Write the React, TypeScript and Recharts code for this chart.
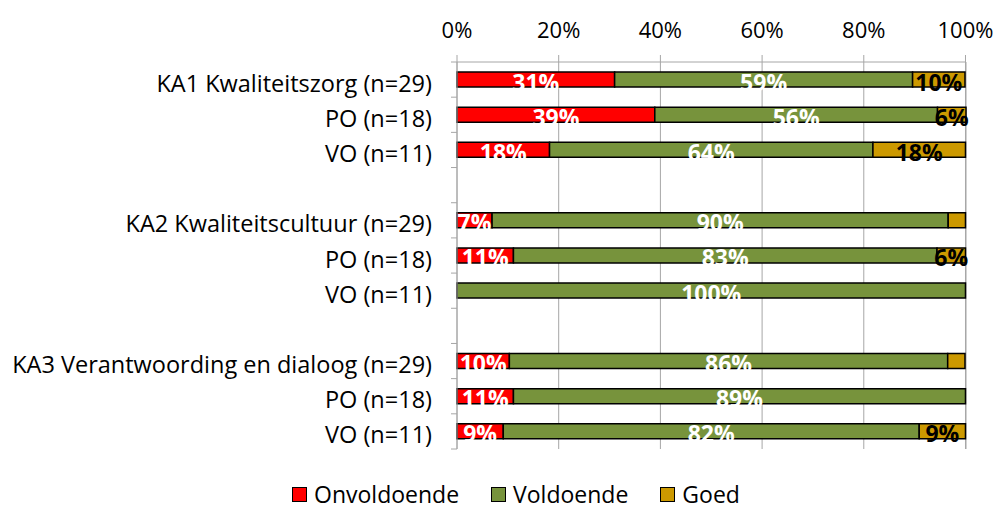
import React from 'react';
import { BarChart, Bar, XAxis, YAxis, CartesianGrid, LabelList, Legend } from 'recharts';

const categories = [
  'KA1 Kwaliteitszorg (n=29)',
  'PO (n=18)',
  'VO (n=11)',
  '',
  'KA2 Kwaliteitscultuur (n=29)',
  'PO (n=18)',
  'VO (n=11)',
  ' ',
  'KA3 Verantwoording en dialoog (n=29)',
  'PO (n=18)',
  'VO (n=11)',
];
const onvoldoende = [31.0, 38.9, 18.2, 0, 6.9, 11.1, 0, 0, 10.3, 11.1, 9.1];
const voldoende = [58.6, 55.6, 63.6, 0, 89.7, 83.3, 100, 0, 86.2, 88.9, 81.8];
const goed = [10.3, 5.6, 18.2, 0, 3.4, 5.6, 0, 0, 3.4, 0, 9.1];
const xTicks = [0, 20, 40, 60, 80, 100];

const seriesNames = ['Onvoldoende', 'Voldoende', 'Goed'];
const seriesColors = ['#FF0000', '#77933C', '#CC9900'];
const labelColors = ['#FFFFFF', '#FFFFFF', '#000000'];

const data = categories.map((c, i) => ({
  cat: c,
  onv: onvoldoende[i],
  vol: voldoende[i],
  goe: goed[i],
}));

const W = 997;
const H = 512;
const M_TOP = 22;
const X_H = 40;
const LEG_H = 63;
const BAND = (H - M_TOP - X_H - LEG_H) / categories.length;
const FONT = '"Open Sans", sans-serif';
const GRID = '#A6A6A6';

const YTick = (props: any) => {
  const { x, y, payload, index } = props;
  return (
    <g>
      <text
        x={x - 25}
        y={y + 3}
        textAnchor="end"
        dominantBaseline="central"
        fontSize={23.5}
        fontFamily={FONT}
        fill="#000"
      >
        {payload.value}
      </text>
      <line x1={x - 6} x2={x} y1={y - BAND / 2} y2={y - BAND / 2} stroke={GRID} />
      {index === categories.length - 1 && (
        <line x1={x - 6} x2={x} y1={y + BAND / 2} y2={y + BAND / 2} stroke={GRID} />
      )}
    </g>
  );
};

const makeLabel = (color: string) => (props: any) => {
  const { x, y, width, height, value } = props;
  if (value == null || value < 5) return null;
  return (
    <text
      x={x + width / 2}
      y={y + height / 2 + 2}
      textAnchor="middle"
      dominantBaseline="central"
      fontSize={23}
      fontWeight="bold"
      fontFamily={FONT}
      fill={color}
    >
      {Math.round(value) + '%'}
    </text>
  );
};

const LegendContent = () => (
  <div
    style={{
      display: 'flex',
      alignItems: 'center',
      paddingLeft: 292,
      paddingTop: 36,
      fontFamily: FONT,
      fontSize: 23,
      color: '#000',
      lineHeight: '18px',
    }}
  >
    {seriesNames.map((n, i) => (
      <div key={n} style={{ display: 'flex', alignItems: 'center', marginRight: 32 }}>
        <div
          style={{
            width: 13,
            height: 13,
            background: seriesColors[i],
            border: '1px solid #000',
            marginRight: 7,
          }}
        />
        <div style={{ display: 'block', height: 18, lineHeight: '18px' }}>{n}</div>
      </div>
    ))}
  </div>
);

export default function App() {
  const keys = ['onv', 'vol', 'goe'];
  return (
    <div style={{ position: 'absolute', left: 0, top: 0, width: W, height: H, background: '#fff' }}>
      <BarChart
        width={W}
        height={H}
        data={data}
        layout="vertical"
        margin={{ top: M_TOP, right: 31, bottom: 0, left: 0 }}
        barCategoryGap={0}
      >
        <CartesianGrid horizontal={false} vertical={true} stroke={GRID} strokeWidth={1} />
        <XAxis
          type="number"
          orientation="top"
          domain={[0, 100]}
          ticks={xTicks}
          height={X_H}
          interval={0}
          tickFormatter={(v: number) => v + '%'}
          tick={{ fontSize: 22, fill: '#000', fontFamily: FONT }}
          tickSize={7}
          tickMargin={17}
          axisLine={{ stroke: GRID }}
          tickLine={{ stroke: GRID }}
        />
        <YAxis
          type="category"
          dataKey="cat"
          width={457}
          interval={0}
          tickSize={0}
          tickMargin={0}
          tick={<YTick />}
          tickLine={false}
          axisLine={{ stroke: GRID }}
        />
        <Legend verticalAlign="bottom" height={LEG_H} content={<LegendContent />} wrapperStyle={{ left: 0, width: W }} />
        {keys.map((k, i) => (
          <Bar
            key={k}
            dataKey={k}
            name={seriesNames[i]}
            stackId="a"
            fill={seriesColors[i]}
            stroke="#000"
            strokeWidth={1.5}
            barSize={15}
            isAnimationActive={false}
          >
            <LabelList dataKey={k} content={makeLabel(labelColors[i])} />
          </Bar>
        ))}
      </BarChart>
    </div>
  );
}
